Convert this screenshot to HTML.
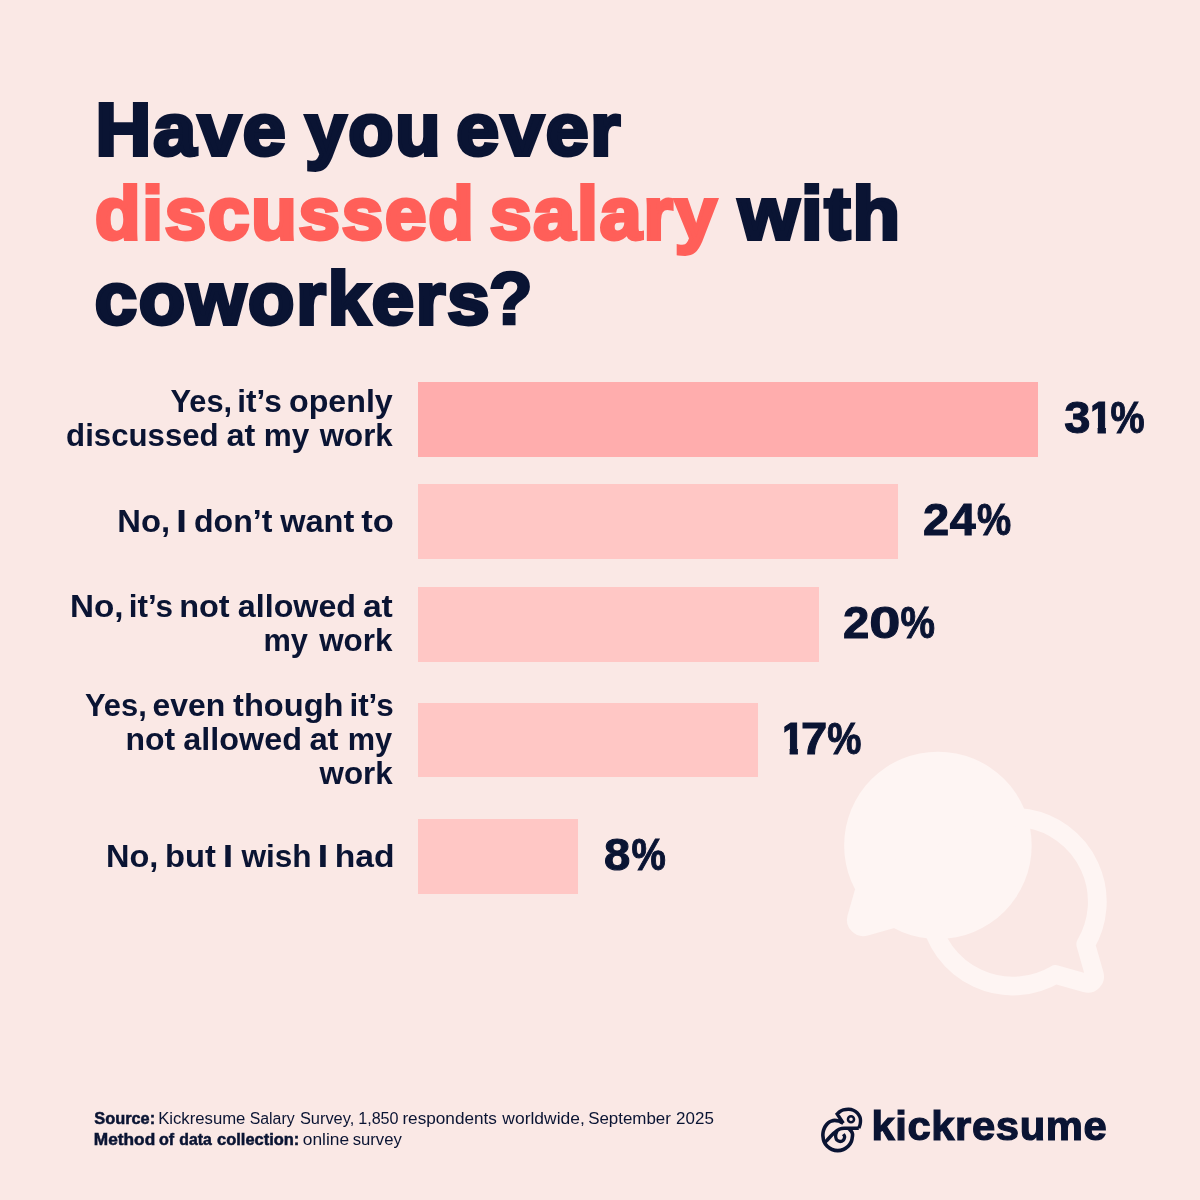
<!DOCTYPE html>
<html lang="en">
<head>
<meta charset="utf-8">
<title>Have you ever discussed salary with coworkers?</title>
<style>
  html, body { margin: 0; padding: 0; }
  body {
    width: 1200px; height: 1200px; overflow: hidden; position: relative;
    background: #FAE8E5;
    font-family: "Liberation Sans", sans-serif;
    color: #0A1433;
  }
  .abs { position: absolute; white-space: nowrap; line-height: 1; }
  .abs span { display: inline-block; transform-origin: left top; }
  .t { font-weight: 700; font-size: 73.6px; -webkit-text-stroke: 3.8px currentColor; letter-spacing: 1.8px; }
  .hl { color: #FF5F59; }
  .t .q { -webkit-text-stroke-width: 2.6px; }
  .bar { position: absolute; left: 418px; height: 74.5px; background: #FFC7C5; }
  #b1 { top: 382px; width: 620.3px; background: #FFADAD; }
  #b2 { top: 484.3px; width: 480.3px; }
  #b3 { top: 587px; width: 400.5px; }
  #b4 { top: 702.8px; width: 340.3px; }
  #b5 { top: 819.2px; width: 160.3px; }
  .l { font-weight: 700; font-size: 31.8px; }
  .p { font-weight: 700; font-size: 43.5px; -webkit-text-stroke: 1px currentColor; }
  .f { font-size: 16px; }
  .f .b { font-weight: 700; -webkit-text-stroke: 0.5px currentColor; }
  .lg { font-weight: 700; font-size: 41.5px; -webkit-text-stroke: 1.2px currentColor; letter-spacing: 0.6px; }
  svg { position: absolute; left: 0; top: 0; }
</style>
</head>
<body>

<svg width="1200" height="1200" viewBox="0 0 1200 1200">
  <!-- chat bubbles decoration -->
  <g transform="translate(825.4 723.5) scale(1.172)">
    <g fill="#FEF5F3" stroke="none">
      <circle cx="96" cy="104" r="80"/>
      <path d="M96 104 L29.67 126 L18.95 163.55 A14 14 0 0 0 36.26 180.86 L73.81 170.14 Z"/>
    </g>
    <path fill="none" stroke="#FEF5F3" stroke-width="16" stroke-linejoin="round" d="M222.13 188.39 L229.45 214.05 A6 6 0 0 1 222.04 221.46 L196.37 214.14 A72 72 0 1 1 222.13 188.39 Z"/>
  </g>
  <!-- kickresume logo mark -->
  <g fill="none" stroke="#0A1433" stroke-linejoin="miter" stroke-miterlimit="10" stroke-linecap="butt">
    <path stroke-width="3.4" d="M843.3 1123.2 L837.2 1114  C837.67 1113.58 838.98 1112.18 840.00 1111.50 C841.02 1110.82 841.85 1110.28 843.30 1109.90 C844.75 1109.52 847.03 1109.15 848.70 1109.20 C850.37 1109.25 851.87 1109.57 853.30 1110.20 C854.73 1110.83 856.22 1111.92 857.30 1113.00 C858.38 1114.08 859.27 1115.53 859.80 1116.70 C860.33 1117.87 860.43 1118.78 860.50 1120.00 C860.57 1121.22 860.48 1122.62 860.20 1124.00 C859.92 1125.38 859.03 1127.58 858.80 1128.30"/>
    <path stroke-width="3.5" d="M858.80 1128.30 C857.33 1128.28 852.30 1128.20 850.00 1128.20 C847.70 1128.20 846.38 1128.25 845.00 1128.30 C843.62 1128.35 842.70 1128.33 841.70 1128.50 C840.70 1128.67 839.83 1128.92 839.00 1129.30 C838.17 1129.68 837.65 1130.08 836.70 1130.80 C835.75 1131.52 834.42 1132.57 833.30 1133.60 C832.18 1134.63 831.10 1135.83 830.00 1137.00 C828.90 1138.17 827.50 1139.73 826.70 1140.60 C825.90 1141.47 825.45 1141.93 825.20 1142.20"/>
    <path stroke-width="3.6" d="M843.20 1123.20 C842.95 1123.08 842.43 1122.85 841.70 1122.50 C840.97 1122.15 839.98 1121.45 838.80 1121.10 C837.62 1120.75 835.85 1120.40 834.60 1120.40 C833.35 1120.40 832.32 1120.72 831.30 1121.10 C830.28 1121.48 829.42 1121.95 828.50 1122.70 C827.58 1123.45 826.53 1124.58 825.80 1125.60 C825.07 1126.62 824.55 1127.70 824.10 1128.80 C823.65 1129.90 823.30 1131.03 823.10 1132.20 C822.90 1133.37 822.75 1134.26 822.90 1135.80 C823.05 1137.34 823.30 1139.72 824.03 1141.46 C824.75 1143.21 825.90 1144.93 827.23 1146.27 C828.57 1147.60 830.29 1148.75 832.04 1149.47 C833.78 1150.20 835.81 1150.60 837.70 1150.60 C839.59 1150.60 841.62 1150.20 843.36 1149.47 C845.11 1148.75 846.83 1147.60 848.17 1146.27 C849.50 1144.93 850.65 1143.21 851.37 1141.46 C852.10 1139.72 852.33 1137.13 852.50 1135.80 C852.67 1134.47 852.60 1134.25 852.40 1133.50 C852.20 1132.75 851.73 1131.95 851.30 1131.30 C850.87 1130.65 850.25 1130.08 849.80 1129.60 C849.35 1129.12 848.80 1128.60 848.60 1128.40"/>
    <path stroke-width="3.3" d="M836.90 1131.30 C836.73 1131.75 836.10 1133.05 835.90 1134.00 C835.70 1134.95 835.52 1135.97 835.70 1137.00 C835.88 1138.03 836.25 1139.45 837.00 1140.20 C837.75 1140.95 839.15 1141.50 840.20 1141.50 C841.25 1141.50 842.57 1140.88 843.30 1140.20 C844.03 1139.52 844.43 1138.17 844.60 1137.40 C844.77 1136.63 844.53 1136.13 844.30 1135.60 C844.07 1135.07 843.38 1134.43 843.20 1134.20"/>
    <circle cx="851" cy="1119.3" r="3.05" stroke-width="2.5"/>
  </g>
</svg>

<div id="b1" class="bar"></div>
<div id="b2" class="bar"></div>
<div id="b3" class="bar"></div>
<div id="b4" class="bar"></div>
<div id="b5" class="bar"></div>

<div id="t1" class="abs t" style="left:97px; top:92.71px"><span style="transform:translateX(-1.40px) scaleX(1.0476)">Have</span> <span style="transform:translateX(3.20px) scaleX(1.0052)">you</span> <span style="transform:translateX(-4.67px) scaleX(1.0456)">ever</span></div>
<div id="t2" class="abs t" style="left:94px; top:177.21px"><span class="hl" style="transform:translateX(0.99px) scaleX(1.0119)">discussed</span> <span class="hl" style="transform:translateX(-2.33px) scaleX(1.0227)">salary</span> <span style="transform:translateX(0.59px) scaleX(1.0577)">with</span></div>
<div id="t3" class="abs t" style="left:94px; top:261.91px"><span style="transform:translateX(0.77px) scaleX(1.0317)">coworkers</span><span class="q" style="transform:translateX(10.54px) scaleX(0.9856)">?</span></div>
<div id="l1a" class="abs l" style="left:169px; top:385.80px"><span style="transform:translateX(1.40px) scaleX(0.9688)">Yes,</span> <span style="transform:translateX(-4.69px) scaleX(0.9924)">it’s</span> <span style="transform:translateX(-6.00px) scaleX(1.0124)">openly</span></div>
<div id="l1b" class="abs l" style="left:65px; top:420.00px"><span style="transform:translateX(1.10px) scaleX(0.9809)">discussed</span> <span style="transform:translateX(-2.49px) scaleX(1.0205)">at</span> <span style="transform:translateX(-3.27px) scaleX(0.9906)">my</span> <span style="transform:translateX(-1.25px) scaleX(0.9831)">work</span></div>
<div id="l2a" class="abs l" style="left:118px; top:505.60px"><span style="transform:translateX(-0.67px) scaleX(1.0298)">No,</span> <span style="transform:translateX(-1.94px) scaleX(1.2580)">I</span> <span style="transform:translateX(-2.01px) scaleX(1.0092)">don’t</span> <span style="transform:translateX(-1.86px) scaleX(1.0232)">want</span> <span style="transform:translateX(-2.84px) scaleX(1.0838)">to</span></div>
<div id="l3a" class="abs l" style="left:70px; top:590.80px"><span style="transform:translateX(-0.01px) scaleX(1.0446)">No,</span> <span style="transform:translateX(-1.30px) scaleX(0.9905)">it’s</span> <span style="transform:translateX(-4.83px) scaleX(1.0209)">not</span> <span style="transform:translateX(-4.15px) scaleX(1.0133)">allowed</span> <span style="transform:translateX(-4.12px) scaleX(1.0575)">at</span></div>
<div id="l3b" class="abs l" style="left:264px; top:625.00px"><span style="transform:translateX(-0.57px) scaleX(0.9677)">my</span> <span style="transform:translateX(0.14px) scaleX(0.9882)">work</span></div>
<div id="l4a" class="abs l" style="left:84px; top:689.80px"><span style="transform:translateX(0.89px) scaleX(0.9719)">Yes,</span> <span style="transform:translateX(-4.46px) scaleX(1.0050)">even</span> <span style="transform:translateX(-4.98px) scaleX(1.0259)">though</span> <span style="transform:translateX(-4.60px) scaleX(0.9888)">it’s</span></div>
<div id="l4b" class="abs l" style="left:125px; top:724.00px"><span style="transform:translateX(0.47px) scaleX(1.0038)">not</span> <span style="transform:translateX(0.35px) scaleX(1.0170)">allowed</span> <span style="transform:translateX(0.38px) scaleX(1.0301)">at</span> <span style="transform:translateX(1.63px) scaleX(0.9670)">my</span></div>
<div id="l4c" class="abs l" style="left:318px; top:758.30px"><span style="transform:translateX(1.53px) scaleX(0.9852)">work</span></div>
<div id="l5a" class="abs l" style="left:106px; top:840.50px"><span style="transform:translateX(-0.05px) scaleX(1.0227)">No,</span> <span style="transform:translateX(-1.04px) scaleX(1.0294)">but</span> <span style="transform:translateX(-1.15px) scaleX(1.1869)">I</span> <span style="transform:translateX(-0.57px) scaleX(0.9923)">wish</span> <span style="transform:translateX(-4.41px) scaleX(1.2253)">I</span> <span style="transform:translateX(-4.29px) scaleX(1.0586)">had</span></div>
<div id="p1" class="abs p" style="left:1063px; top:396.80px"><span style="transform:translateX(1.15px) scaleX(1.0818)">3</span><span style="transform:translateX(0.97px) scaleX(1.0300); clip-path:polygon(4.2px 0, 17.4px 0, 17.4px 44px, 9.4px 44px, 9.4px 29px, 4.2px 29px)">1</span><span style="transform:translateX(-0.42px) scaleX(0.8823)">%</span></div>
<div id="p2" class="abs p" style="left:922px; top:499.21px"><span style="transform:translateX(0.92px) scaleX(1.0817)">2</span><span style="transform:translateX(3.66px) scaleX(1.0721)">4</span><span style="transform:translateX(6.96px) scaleX(0.8824)">%</span></div>
<div id="p3" class="abs p" style="left:842px; top:601.60px"><span style="transform:translateX(0.91px) scaleX(1.0890)">2</span><span style="transform:translateX(3.18px) scaleX(1.2874)">0</span><span style="transform:translateX(10.60px) scaleX(0.8906)">%</span></div>
<div id="p4" class="abs p" style="left:783px; top:717.80px"><span style="transform:translateX(-3.03px) scaleX(1.0300); clip-path:polygon(4.2px 0, 17.4px 0, 17.4px 44px, 9.4px 44px, 9.4px 29px, 4.2px 29px)">1</span><span style="transform:translateX(-6.00px) scaleX(1.0853)">7</span><span style="transform:translateX(-3.65px) scaleX(0.8827)">%</span></div>
<div id="p5" class="abs p" style="left:603px; top:834.10px"><span style="transform:translateX(1.10px) scaleX(1.0852)">8</span><span style="transform:translateX(4.47px) scaleX(0.8872)">%</span></div>
<div id="f1" class="abs f" style="left:93px; top:1110.50px"><span class="b" style="transform:translateX(1.31px) scaleX(1.0213)">Source:</span> <span style="transform:translateX(1.15px) scaleX(1.0435)">Kickresume</span> <span style="transform:translateX(4.70px) scaleX(0.9905)">Salary</span> <span style="transform:translateX(4.89px) scaleX(1.0252)">Survey,</span> <span style="transform:translateX(6.17px) scaleX(1.0085)">1,850</span> <span style="transform:translateX(5.39px) scaleX(1.0733)">respondents</span> <span style="transform:translateX(13.34px) scaleX(1.0903)">worldwide,</span> <span style="transform:translateX(19.14px) scaleX(1.0572)">September</span> <span style="transform:translateX(24.12px) scaleX(1.0606)">2025</span></div>
<div id="f2" class="abs f" style="left:93px; top:1131.80px"><span class="b" style="transform:translateX(0.81px) scaleX(1.0793)">Method</span> <span class="b" style="transform:translateX(4.97px) scaleX(1.0066)">of</span> <span class="b" style="transform:translateX(5.30px) scaleX(0.9858)">data</span> <span class="b" style="transform:translateX(6.07px) scaleX(1.0280)">collection:</span> <span style="transform:translateX(6.76px) scaleX(1.0837)">online</span> <span style="transform:translateX(9.67px) scaleX(1.0424)">survey</span></div>
<div id="logo" class="abs lg" style="left:871px; top:1105.41px"><span style="transform:translateX(0.38px) scaleX(1.0066)">kickresume</span></div>

</body>
</html>
